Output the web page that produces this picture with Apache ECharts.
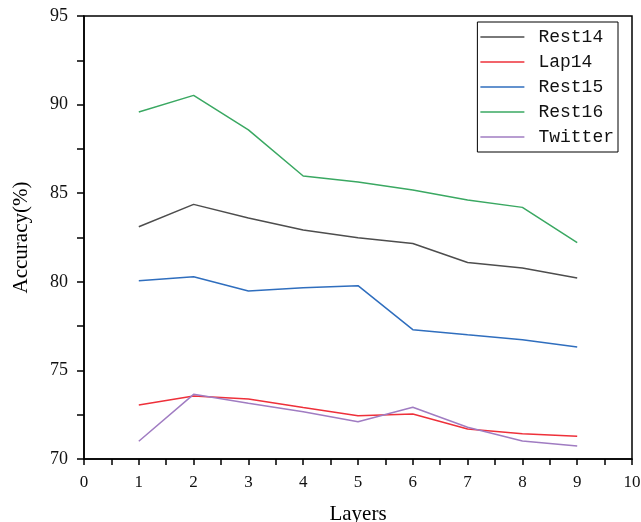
<!DOCTYPE html>
<html>
<head>
<meta charset="utf-8">
<script src="https://cdn.jsdelivr.net/npm/echarts@6/dist/echarts.min.js"></script>
<style>html,body{margin:0;padding:0;background:#fff;}#c{width:641px;height:522px;}</style>
</head>
<body>
<div id="c"></div>
<script>
const layers = [1, 2, 3, 4, 5, 6, 7, 8, 9];
const seriesNames = ['Rest14', 'Lap14', 'Rest15', 'Rest16', 'Twitter'];
const rest14 = [83.11, 84.37, 83.60, 82.92, 82.49, 82.16, 81.09, 80.78, 80.22];
const lap14 = [73.05, 73.56, 73.39, 72.90, 72.44, 72.54, 71.69, 71.43, 71.29];
const rest15 = [80.06, 80.29, 79.48, 79.67, 79.78, 77.30, 77.01, 76.73, 76.32];
const rest16 = [89.58, 90.52, 88.57, 85.97, 85.63, 85.18, 84.62, 84.20, 82.21];
const twitter = [71.00, 73.65, 73.15, 72.67, 72.10, 72.92, 71.79, 71.02, 70.73];
const colors = ['#4d4d4d', '#ee303a', '#2f6ebe', '#3aa862', '#a07cc2'];
const allData = [rest14, lap14, rest15, rest16, twitter];

const chart = echarts.init(document.getElementById('c'));
const serif = '"Liberation Serif", "DejaVu Serif", serif';
chart.setOption({
  animation: false,
  backgroundColor: '#fff',
  grid: { left: 84, right: 9, top: 16, bottom: 63, outerBoundsMode: 'none', containLabel: false, show: true, borderColor: '#000', borderWidth: 1.5, backgroundColor: 'transparent' },
  legend: {
    orient: 'vertical',
    right: 23, top: 22,
    data: seriesNames,
    icon: 'rect',
    borderColor: '#000', borderWidth: 1,
    padding: [6, 4, 6, 3],
    itemWidth: 44, itemHeight: 1.5, itemGap: 7,
    textStyle: { fontFamily: '"Liberation Mono", "DejaVu Sans Mono", monospace', fontSize: 18, lineHeight: 18, color: '#111', padding: [0, 0, 0, 9] }
  },
  xAxis: {
    type: 'value', min: 0, max: 10, interval: 1,
    name: 'Layers', nameLocation: 'middle', nameGap: 45,
    nameTextStyle: { fontFamily: serif, fontSize: 21, color: '#000' },
    axisLine: { lineStyle: { color: '#000', width: 1.5 } },
    axisTick: { show: true, length: 6, lineStyle: { color: '#000', width: 1.5 } },
    minorTick: { show: true, splitNumber: 2, length: 6, lineStyle: { color: '#000', width: 1.5 } },
    axisLabel: { fontFamily: serif, fontSize: 17, color: '#111', margin: 15 },
    splitLine: { show: false }
  },
  yAxis: {
    type: 'value', min: 70, max: 95, interval: 5,
    name: 'Accuracy(%)', nameLocation: 'middle', nameGap: 52,
    nameTextStyle: { fontFamily: serif, fontSize: 21, color: '#000' },
    axisLine: { lineStyle: { color: '#000', width: 1.5 } },
    axisTick: { show: true, length: 7, lineStyle: { color: '#000', width: 1.5 } },
    minorTick: { show: true, splitNumber: 2, length: 7, lineStyle: { color: '#000', width: 1.5 } },
    axisLabel: { fontFamily: serif, fontSize: 18, color: '#111', margin: 16 },
    splitLine: { show: false }
  },
  series: seriesNames.map((n, i) => ({
    name: n, type: 'line', symbol: 'none',
    color: colors[i],
    lineStyle: { width: 1.5, color: colors[i] },
    data: layers.map((x, j) => [x, allData[i][j]])
  }))
});
</script>
</body>
</html>
